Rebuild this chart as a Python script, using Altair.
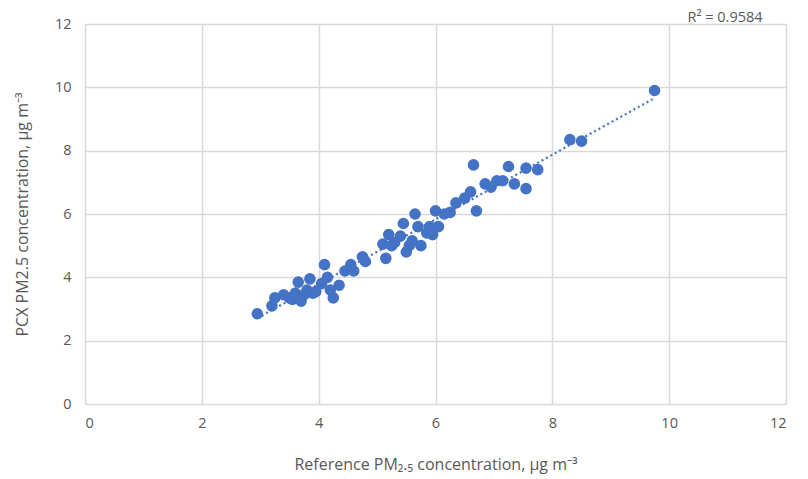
import altair as alt
import pandas as pd

ref_x = [2.95, 3.2, 3.25, 3.4, 3.5, 3.55, 3.6, 3.65, 3.7, 3.75, 3.8, 3.85, 3.9, 3.95,
         4.05, 4.1, 4.15, 4.2, 4.25, 4.35, 4.45, 4.55, 4.6, 4.75, 4.8,
         5.1, 5.15, 5.2, 5.25, 5.3, 5.4, 5.45, 5.5, 5.55, 5.6, 5.65, 5.7, 5.75,
         5.85, 5.9, 5.95, 6.0, 6.05, 6.15, 6.25, 6.35, 6.5, 6.6, 6.65, 6.7,
         6.85, 6.95, 7.05, 7.15, 7.25, 7.35, 7.55, 7.55, 7.75, 8.3, 8.5, 9.75]
pcx_y = [2.85, 3.1, 3.35, 3.45, 3.35, 3.3, 3.5, 3.85, 3.25, 3.45, 3.6, 3.95, 3.5, 3.55,
         3.8, 4.4, 4.0, 3.6, 3.35, 3.75, 4.2, 4.4, 4.2, 4.65, 4.5,
         5.05, 4.6, 5.35, 5.0, 5.1, 5.3, 5.7, 4.8, 5.0, 5.15, 6.0, 5.6, 5.0,
         5.4, 5.6, 5.35, 6.1, 5.6, 6.0, 6.05, 6.35, 6.5, 6.7, 7.55, 6.1,
         6.95, 6.85, 7.05, 7.05, 7.5, 6.95, 7.45, 6.8, 7.4, 8.35, 8.3, 9.9]
r2_label = "R² = 0.9584"
axis_ticks = [0, 2, 4, 6, 8, 10, 12]

df = pd.DataFrame({"x": ref_x, "y": pcx_y})
blue = "#4472c4"
font = "Open Sans"

xenc = alt.X("x:Q", scale=alt.Scale(domain=[0, 12], nice=False),
             axis=alt.Axis(values=axis_ticks, format="d",
                           title="Reference PM₂.₅ concentration, μg m⁻³",
                           titlePadding=27, labelPadding=12))
yenc = alt.Y("y:Q", scale=alt.Scale(domain=[0, 12], nice=False),
             axis=alt.Axis(values=axis_ticks, format="d",
                           title="PCX PM2.5 concentration, μg m⁻³",
                           titlePadding=24, labelPadding=14))

base = alt.Chart(df)
points = base.mark_circle(size=135, color=blue, opacity=1).encode(x=xenc, y=yenc)
trend = base.transform_regression("x", "y").mark_line(
    color=blue, strokeDash=[2, 3], strokeWidth=2.2).encode(x="x:Q", y="y:Q")
r2 = alt.Chart(pd.DataFrame({"t": [r2_label]})).mark_text(
    font=font, fontSize=14.5, color="#595959", align="center").encode(
    text="t:N", x=alt.value(640), y=alt.value(-6))

chart = (trend + points + r2).properties(
    width=701, height=380,
    autosize=alt.AutoSizeParams(type="none"),
    padding={"left": 77, "top": 16, "right": 14, "bottom": 70},
).configure_view(stroke=None).configure_axis(
    domain=False, ticks=False, grid=True, gridColor="#d9d9d9", gridWidth=1.5,
    labelFont=font, labelFontSize=14.5, labelColor="#595959",
    titleFont=font, titleFontSize=16, titleColor="#595959", titleFontWeight="normal",
)

chart.save("out.html", embed_options={"renderer": "svg", "actions": False})
